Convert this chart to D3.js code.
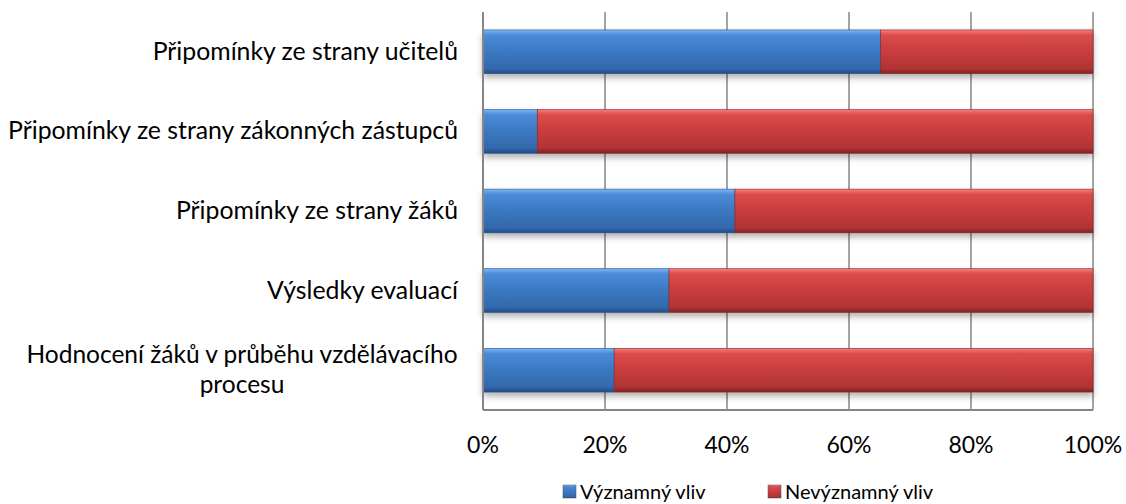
<!DOCTYPE html>
<meta charset="utf-8">
<title>Vliv na hodnocení</title>
<style>
body { margin: 0; background: white; }
svg { font-family: 'Lato', 'Open Sans', sans-serif; }
</style>
<body>
<script src="https://d3js.org/d3.v7.min.js"></script>
<script>
// data
const categories = [
  "Připomínky ze strany učitelů",
  "Připomínky ze strany zákonných zástupců",
  "Připomínky ze strany žáků",
  "Výsledky evaluací",
  "Hodnocení žáků v průběhu vzdělávacího procesu"
];
const vyznamny = [65.2, 8.9, 41.3, 30.5, 21.5];
const nevyznamny = vyznamny.map(v => 100 - v);
const seriesNames = ["Významný vliv", "Nevýznamný vliv"];
const ticks = [0, 20, 40, 60, 80, 100];

const width = 1126, height = 504;
const margin = {top: 12, right: 33, bottom: 94, left: 483};

const svg = d3.select("body").append("svg")
    .attr("width", width)
    .attr("height", height);

// gradients
const defs = svg.append("defs");
function grad(id, stops) {
  const g = defs.append("linearGradient").attr("id", id)
    .attr("x1", 0).attr("y1", 0).attr("x2", 0).attr("y2", 1);
  stops.forEach(s => g.append("stop").attr("offset", s[0]).attr("stop-color", s[1]));
}
grad("blue", [[0, "#7ab6f4"], [0.12, "#4b8bd8"], [0.5, "#3b78c2"], [0.88, "#3468ac"], [1, "#224c84"]]);
grad("red", [[0, "#f48080"], [0.12, "#dc4b4b"], [0.5, "#c83d3d"], [0.88, "#b03434"], [1, "#822222"]]);
const f = defs.append("filter").attr("id", "shadow")
    .attr("x", "-5%").attr("y", "-20%").attr("width", "110%").attr("height", "160%");
f.append("feDropShadow").attr("dx", 0).attr("dy", 4).attr("stdDeviation", 3)
    .attr("flood-color", "#000").attr("flood-opacity", 0.3);

const x = d3.scaleLinear().domain([0, 100]).range([margin.left, width - margin.right]);
const y = d3.scaleBand().domain(categories).range([margin.top, height - margin.bottom]).paddingInner(0.45).paddingOuter(0.225);
const band = d3.scaleBand().domain(categories).range([margin.top, height - margin.bottom]);

// gridlines
svg.append("g").selectAll("line").data(ticks.slice(1)).join("line")
    .attr("x1", d => x(d)).attr("x2", d => x(d))
    .attr("y1", margin.top).attr("y2", height - margin.bottom)
    .attr("stroke", "#868686").attr("stroke-width", 1.5);

// bars
const rows = categories.map((c, i) => ({c, a: vyznamny[i], b: nevyznamny[i]}));
const g = svg.append("g").attr("filter", "url(#shadow)");
g.selectAll("rect.a").data(rows).join("rect")
    .attr("class", "a")
    .attr("x", x(0)).attr("y", d => y(d.c))
    .attr("width", d => x(d.a) - x(0)).attr("height", y.bandwidth())
    .attr("fill", "url(#blue)").attr("stroke", "#2a5590").attr("stroke-width", 0.6);
g.selectAll("rect.b").data(rows).join("rect")
    .attr("class", "b")
    .attr("x", d => x(d.a)).attr("y", d => y(d.c))
    .attr("width", d => x(100) - x(d.a)).attr("height", y.bandwidth())
    .attr("fill", "url(#red)").attr("stroke", "#8a2626").attr("stroke-width", 0.6);

// axes
svg.append("line").attr("x1", x(0)).attr("x2", x(0))
    .attr("y1", margin.top).attr("y2", height - margin.bottom)
    .attr("stroke", "#868686").attr("stroke-width", 2);
svg.append("line").attr("x1", x(0)).attr("x2", x(100))
    .attr("y1", height - margin.bottom).attr("y2", height - margin.bottom)
    .attr("stroke", "#868686").attr("stroke-width", 2);

svg.append("g").selectAll("text").data(ticks).join("text")
    .attr("x", d => x(d)).attr("y", 453)
    .attr("text-anchor", "middle")
    .style("font-size", "23px").attr("fill", "#000")
    .text(d => d + "%");

// category labels
categories.forEach((c, i) => {
  const cy = band(c) + band.bandwidth() / 2;
  if (i === categories.length - 1) {
    const t = svg.append("text").attr("text-anchor", "middle").style("font-size", "24.5px");
    t.append("tspan").attr("x", 242).attr("y", 363).text("Hodnocení žáků v průběhu vzdělávacího");
    t.append("tspan").attr("x", 242).attr("y", 393).text("procesu");
  } else {
    svg.append("text").attr("x", 458).attr("y", cy + 8)
      .attr("text-anchor", "end").style("font-size", "24.8px").text(c);
  }
});

// legend
const leg = [{n: seriesNames[0], fill: "url(#blue)", x: 563}, {n: seriesNames[1], fill: "url(#red)", x: 768}];
leg.forEach(l => {
  svg.append("rect").attr("x", l.x).attr("y", 485).attr("width", 13).attr("height", 13)
    .attr("fill", l.fill).attr("stroke", "#555").attr("stroke-width", 0.5);
  svg.append("text").attr("x", l.x + 17).attr("y", 499)
    .style("font-size", "20px").text(l.n);
});
</script>
</body>
